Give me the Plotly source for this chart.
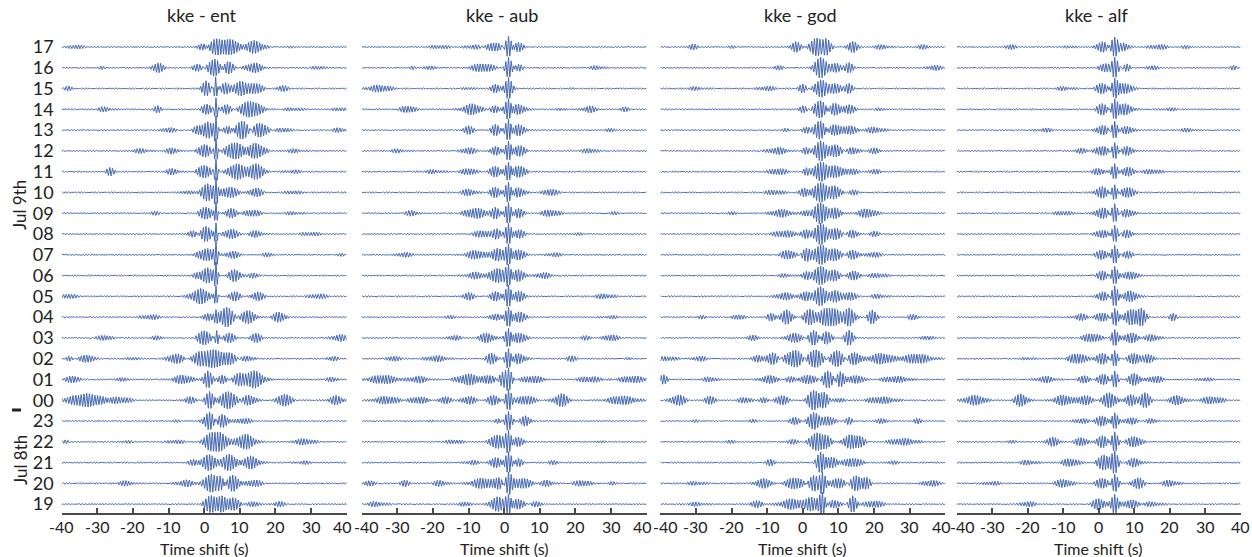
import numpy as np
import plotly.graph_objects as go

# ---------------- data ----------------
HOURS = ["17", "16", "15", "14", "13", "12", "11", "10", "09", "08", "07", "06",
         "05", "04", "03", "02", "01", "00", "23", "22", "21", "20", "19"]
PANEL_TITLES = ["kke - ent", "kke - aub", "kke - god", "kke - alf"]
TIME_TICKS = [-40, -30, -20, -10, 0, 10, 20, 30, 40]
X_TITLE = "Time shift (s)"

# wave packets for each hour trace:
# (centre time s, half-width s, relative amplitude)
ENT_PACKETS = [
    [(-36, 1.5, 2), (0, 1.5, 5), (3.5, 2.5, 9), (8, 1.5, 7), (14, 2, 6), (25, 2, 1.5)],
    [(-29, 1, 2), (-13, 1.2, 5), (-2, 1.5, 4), (3, 1.5, 9), (6.5, 1.5, 7), (14, 2, 5), (32, 1.5, 2)],
    [(-38, 1, 2), (0.5, 1, 7), (3.2, 0.4, 12), (6, 1.2, 5), (10, 1.5, 7), (14, 2, 6), (22, 1.5, 2.5)],
    [(-28, 1.5, 2), (-13, 1, 4), (0.8, 1.2, 6), (3.3, 0.4, 12), (6.5, 1.2, 5), (13, 2.5, 8), (25, 2, 1.5), (38, 1.5, 2)],
    [(-10, 2, 3), (-2, 1, 3), (1, 1.5, 8), (3.3, 0.4, 12), (7, 1.2, 6), (10.5, 1.8, 9), (15.5, 1.8, 8), (22, 1.5, 2), (38, 1.5, 2)],
    [(-18, 2, 2), (-9, 1.2, 3), (0, 1.5, 7), (3.3, 0.4, 12), (8.5, 2, 9), (14.5, 2, 8), (25, 2, 1.5)],
    [(-26.5, 1, 4), (-9, 1.5, 2.5), (0, 1.5, 7), (3.3, 0.4, 12), (9, 2, 8), (14.5, 2, 8), (25, 2, 1.5)],
    [(-5, 1.5, 2), (1, 1.5, 8), (3.3, 0.4, 12), (7, 2, 5), (14.5, 1.5, 5), (25, 2, 2)],
    [(-14, 1.5, 2), (0.5, 1.5, 7), (3.3, 0.4, 12), (7.5, 1.5, 5), (13.5, 2, 4), (25, 3, 2)],
    [(-3, 1.5, 3), (0.5, 1.5, 8), (3.3, 0.4, 12), (7.5, 1.5, 5), (14.5, 1.5, 3), (30, 2, 1.5)],
    [(-2, 1, 3), (1, 1.5, 7), (3.3, 0.4, 12), (8, 2, 4), (18, 2, 2.5), (38, 1.5, 2)],
    [(-2, 1, 3), (1, 1.5, 8), (3.3, 0.4, 12), (8.5, 1.5, 6), (14, 1.5, 3)],
    [(-38, 1.5, 2), (-1, 2, 7), (3.3, 0.4, 12), (8.5, 1.5, 5), (15, 1.5, 4), (32, 2, 2)],
    [(-15, 2, 2), (1, 1, 4), (3.3, 0.4, 5), (6.3, 1.8, 10), (12, 1.8, 6), (21, 1.5, 5)],
    [(-28, 1.5, 2.5), (-13, 1.5, 2.5), (0, 1.5, 8), (3.5, 0.5, 8), (7, 1.5, 5), (14.5, 1.5, 5), (38, 1.5, 3)],
    [(-38, 0.8, 2.5), (-33, 1.5, 4), (-20, 1.5, 2), (-8, 1.8, 5), (-1.5, 1.5, 7), (2.5, 2, 9), (7, 1.5, 6), (12, 1.5, 3), (36, 1.5, 3)],
    [(-37, 1.5, 4), (-23, 1, 2), (-6, 2, 4), (1, 1, 8), (5, 1, 5), (10, 1.5, 6), (14, 2, 8), (36, 1.5, 3)],
    [(-33, 4, 6), (-24, 3, 3.5), (-4, 1.5, 3.5), (1.5, 1, 8), (6.8, 1.8, 9), (12.5, 1.5, 5), (22.5, 1.5, 6), (37, 1.5, 4)],
    [(-8, 2, 1.5), (1.5, 1.2, 9), (5, 1.5, 7), (11, 2, 3)],
    [(-39, 1, 2), (-22, 2, 2), (-8, 2, 2), (1.5, 1.2, 8), (4.5, 1.5, 9), (11.5, 2, 7), (28, 3, 3.5)],
    [(-3, 1.5, 3), (1.5, 1.5, 8), (7, 1.5, 9), (13, 1.8, 6), (28, 2.5, 2)],
    [(-22, 2, 2.5), (-5, 2, 3), (2, 1.5, 9), (4.5, 1, 7), (8, 1.5, 8), (14, 2, 4)],
    [(-30, 2, 1.5), (2, 1.5, 8), (5, 1, 6), (8, 1.5, 6), (14, 1.5, 3), (21, 1.5, 2.5)],
]

AUB_PACKETS = [
    [(-18, 2, 1.5), (-8, 2, 2), (-3, 2, 5), (1.2, 0.8, 11), (4, 1.5, 5)],
    [(-26, 1, 2), (-21, 1, 2), (-6, 3, 4.5), (1.2, 0.8, 10), (4, 1, 4), (26, 1.5, 2)],
    [(-35, 2.5, 3), (-10, 2, 2), (-2.5, 1, 5), (1.2, 0.8, 11), (20, 2, 1.5)],
    [(-27, 2, 4), (-9, 2, 5), (-2.5, 1.3, 4), (1.2, 0.8, 11), (4, 1.5, 5), (16, 1.5, 2), (24, 1.5, 3), (34, 1.2, 2)],
    [(-10, 1.3, 4), (-2.5, 1.2, 6), (1.2, 0.8, 11), (4, 1.5, 5), (30, 2, 1.5)],
    [(-30, 2, 1.5), (-10, 1.5, 3), (-2.5, 1.2, 5), (1.2, 0.8, 11), (4, 1.5, 5), (24, 1.5, 2)],
    [(-20, 2, 1.5), (-10, 1.5, 3), (-2.5, 1.2, 6), (1.2, 0.8, 11), (4, 1.5, 6)],
    [(-10, 1.5, 3), (-2.5, 1.2, 5), (1.2, 0.8, 11), (4, 1.5, 5), (13, 1.5, 3)],
    [(-26, 2, 3), (-8, 2.5, 5), (-2.5, 1, 5), (1.2, 0.8, 11), (4, 1.5, 5), (13, 2, 3), (31, 2, 2)],
    [(-6, 2.5, 4), (-2, 1, 5), (1.2, 0.8, 11), (4, 1.5, 5), (20, 2, 1.5)],
    [(-28, 1.5, 2), (-8, 2, 4), (-2, 1.5, 6), (1.2, 0.8, 11), (4, 1.5, 6), (14, 2, 2.5)],
    [(-8, 2, 3), (-2, 1.5, 7), (1.2, 0.8, 11), (4, 1.5, 6), (11, 1.5, 3)],
    [(-10, 1.5, 4), (-2.5, 1.5, 5), (1.2, 0.8, 11), (4, 1.5, 5), (28, 2, 2)],
    [(-15, 2, 1.5), (-2.5, 1.5, 4), (1.2, 0.8, 11), (4, 1.5, 5), (30, 2, 1.5)],
    [(-14, 1.5, 3), (-5, 2, 5), (1.2, 0.8, 11), (4, 1.5, 5), (23, 1.5, 2), (30, 1.5, 3)],
    [(-31, 1.5, 3), (-19, 2.5, 3), (-3.5, 1.3, 6), (1.2, 0.8, 11), (4, 1.5, 5), (19, 1.5, 3), (35, 2, 1.5)],
    [(-34, 3, 4), (-24, 2, 3), (-10, 2.5, 5), (-4, 1.5, 4), (-0.5, 1, 8), (1.2, 0.8, 11), (8, 3, 4), (24, 3, 3), (36, 3, 3)],
    [(-33, 3, 4), (-24, 2, 3), (-16.5, 1.2, 4), (-10, 1.5, 4), (-3, 1.5, 5), (1.2, 0.8, 11), (6, 2, 4), (16, 1.5, 6), (33, 3, 4)],
    [(-20, 3, 1), (-1.5, 1, 3), (1.2, 0.8, 10), (6, 1, 5)],
    [(-14, 2, 2), (-2, 1.5, 7), (1.2, 0.8, 11), (4, 1.5, 5), (27, 1.5, 2)],
    [(-9, 1.5, 2), (-2.5, 1.5, 5), (1.2, 0.8, 10), (4, 1, 4), (14, 1.5, 2)],
    [(-38, 1.2, 3), (-28, 1.2, 3), (-18, 1.5, 3), (-6, 2.5, 5), (-1.5, 1, 6), (1.2, 0.8, 11), (5, 2, 5), (12, 1.5, 3), (22, 2, 3), (30, 1.2, 2)],
    [(-36, 2, 2), (-11, 1.5, 3), (-2, 1.5, 7), (1.2, 0.8, 11), (4, 1.5, 5), (9, 2, 3)],
]

GOD_PACKETS = [
    [(-31, 1.2, 3), (-20, 2, 1.5), (-2, 1, 5), (4, 1.5, 9), (6.5, 1, 8), (14, 1, 6), (22, 2, 2), (34, 1.5, 2)],
    [(-7, 1.5, 2.5), (5, 1.5, 10), (9, 1.5, 5), (13, 1, 6), (37, 1.5, 2.5)],
    [(-30, 2, 1.5), (-10, 2, 2), (0, 1, 4), (5, 1.5, 9), (9, 1.5, 6), (13, 1, 5)],
    [(0, 1, 3), (5, 1.5, 10), (8.5, 1.5, 6), (13, 1.5, 4), (22, 2, 2)],
    [(-5, 1.5, 2), (1, 1, 4), (5, 1.5, 10), (8.5, 1.5, 6), (13, 1.5, 4), (20, 2, 2.5)],
    [(-7, 2, 3), (1, 1, 4), (5, 1.5, 10), (9, 1.5, 6), (14, 1.5, 4), (20, 1.5, 2.5)],
    [(-7, 2, 3), (1, 1, 4), (5, 1.5, 10), (9, 1.5, 6), (13.5, 1.5, 3), (20, 1.5, 2.5)],
    [(-8, 2, 2), (0.5, 1, 4), (5, 1.5, 10), (9, 1.5, 6), (14, 1.5, 3)],
    [(-20, 2, 2), (-6, 2.5, 4), (1, 1, 3), (5, 1.5, 10), (9, 1.5, 5), (18, 2, 4)],
    [(-5, 2.5, 3), (1, 1, 4), (5, 1.5, 10), (9, 1.5, 6), (14, 1.2, 4), (20, 1.5, 3)],
    [(-4, 2, 5), (1, 1.2, 6), (5, 1.5, 10), (9, 1.5, 7), (14, 1.5, 4), (20, 1.5, 3)],
    [(-5, 2, 2), (1, 1, 4), (5, 1.5, 10), (9, 1.5, 6), (14, 1.5, 4), (21, 2, 2)],
    [(-5, 2.5, 4), (1, 1.2, 5), (5, 1.5, 10), (9, 1.5, 6), (13, 1.5, 4), (21, 2, 2)],
    [(-28, 1.5, 2), (-18, 1.5, 3), (-9, 1.2, 4), (-4.5, 1.3, 7), (2, 1.5, 8), (6, 1.5, 7), (9, 1.5, 8), (13, 1.2, 9), (19.5, 1, 8), (31, 1.5, 3)],
    [(-14, 1.5, 2), (-2, 2.5, 5), (3, 1.5, 8), (6.5, 1.5, 7), (13, 1, 7), (35, 1.5, 2.5)],
    [(-38, 2, 2), (-29, 2, 3), (-13, 1.2, 4), (-8.5, 1.5, 6), (-2, 2.5, 9), (3, 2, 10), (9.5, 1.5, 9), (14.5, 1.5, 6), (22, 2.5, 5), (32, 3, 4.5)],
    [(-39, 1, 5), (-26, 2, 3), (-9, 2.5, 4), (-4, 1.5, 3), (2, 2, 4), (7, 1.5, 9), (10.5, 1, 8), (15, 1.5, 4), (26, 3, 3)],
    [(-35, 1.5, 5), (-26, 1.5, 4), (-16, 2, 3), (-11, 1.5, 2.5), (-6, 1.5, 5), (3, 1.5, 10), (6, 1, 7), (10, 1.5, 3), (22, 3, 3)],
    [(-30, 2, 1.5), (-14, 1.5, 2), (-2, 1.5, 3), (3, 1.5, 9), (7, 1.5, 5), (13, 1, 4), (22, 1, 3), (32, 1, 2.5)],
    [(-20, 2, 1.5), (-3, 1.5, 2), (4, 1.5, 9), (7, 1, 5), (13, 1.5, 7), (16, 1.2, 6), (28, 3, 3)],
    [(-28, 2, 1.5), (-9, 1, 3), (5, 1, 10), (8, 1.5, 5), (14, 2, 4), (25, 2, 2)],
    [(-30, 2, 1.5), (-11, 2, 5), (-2, 2.5, 6), (3, 1.5, 8), (5.5, 0.8, 11), (10, 1.5, 5), (15, 1.5, 8), (18, 1, 5), (36, 2, 3)],
    [(-30, 2, 1.5), (-13, 1.5, 3), (-3, 2.5, 5), (2.5, 1.5, 7), (5.5, 0.8, 11), (9, 1.5, 4), (14, 1, 8), (20, 2, 3)],
]

ALF_PACKETS = [
    [(-25, 1.5, 3), (-8, 2, 2), (1, 1.5, 5), (4.5, 1, 10), (7, 1, 4), (17, 2, 2), (25, 2, 2)],
    [(2, 1.5, 5), (4.5, 0.8, 10), (8, 1, 4), (15, 1.5, 3), (38, 1, 2.5)],
    [(-10, 2, 1.5), (1, 1.5, 6), (4.5, 0.8, 10), (7.5, 1.5, 5)],
    [(1, 1.5, 6), (4.5, 0.8, 10), (7.5, 1.5, 5), (20, 2, 1.5)],
    [(-15, 2, 1.5), (1, 1.5, 5), (4.5, 0.8, 9), (8, 1.5, 4), (25, 2, 1.5)],
    [(-5, 1.5, 2), (1, 1.5, 5), (4.5, 0.8, 9), (8, 1.5, 4)],
    [(0, 1.5, 4), (4.5, 0.8, 9), (8, 1.5, 4), (15, 2, 2)],
    [(1, 1.5, 5), (4.5, 0.8, 9), (8, 1.5, 5)],
    [(-10, 2, 2), (1, 1.5, 5), (4.5, 0.8, 10), (8, 1.5, 4)],
    [(1, 1.5, 4), (4.5, 0.8, 9), (8, 1.5, 4)],
    [(1, 1.5, 5), (4.5, 0.8, 10), (8, 1.5, 4)],
    [(1, 1.5, 5), (4.5, 0.8, 9), (9, 1.5, 4)],
    [(1, 1.5, 5), (4.5, 0.8, 10), (9, 1.5, 5)],
    [(-5, 1.5, 3), (1, 1.5, 5), (4.5, 0.8, 9), (9, 1.5, 7), (12, 1, 8), (21, 1, 4)],
    [(-2, 2, 4), (4.5, 0.8, 9), (9, 1.5, 5), (15, 1.5, 3)],
    [(-20, 2, 2), (-6, 2, 5), (1, 1.5, 5), (4.5, 0.8, 9), (10, 1.5, 6), (14, 1.5, 4)],
    [(-15, 2, 3), (-4, 2, 4), (1, 1.5, 5), (4.5, 0.8, 9), (10, 1.5, 6), (16, 2, 4), (30, 2, 2)],
    [(-35, 2.5, 5), (-22, 1.5, 6), (-10, 2, 5), (-4, 2, 5), (3, 1.5, 8), (9, 1.5, 6), (13, 1.2, 8), (22, 2, 5), (32, 3, 4)],
    [(-5, 2, 3), (1, 1.5, 5), (4.5, 0.8, 9), (9, 1.5, 4), (15, 1.5, 3)],
    [(-25, 2, 2), (-13, 1.5, 4), (-5, 1.5, 5), (1, 1.5, 6), (4.5, 0.8, 10), (10, 1.5, 5)],
    [(-20, 2, 2), (-8, 2, 4), (1.5, 1.5, 7), (4.5, 0.8, 10), (10, 1.5, 4)],
    [(-30, 2, 2), (-10, 2, 4), (1, 1.5, 6), (4.5, 0.8, 9), (11, 1.5, 6), (20, 2, 3)],
    [(-20, 2, 3), (0, 1.5, 6), (4.5, 0.8, 10), (9, 1.5, 4), (15, 2, 2)],
]

ALL_PACKETS = [ENT_PACKETS, AUB_PACKETS, GOD_PACKETS, ALF_PACKETS]

# ---------------- rendering helpers ----------------
LINE_COLOR = "#4467b0"
FONT = "Lato"
TEXT_COLOR = "#222222"
AXIS_COLOR = "#4a4a4a"
CARRIER_HZ = 1.3
AMP_SCALE = 1.0 / 20.8      # relative amplitude -> row spacing units
BACKGROUND = 0.85

t = np.arange(-40.0, 40.0001, 0.05)


def trace_from_packets(packets, seed_phase):
    y = BACKGROUND * (0.6 * np.cos(2 * np.pi * CARRIER_HZ * t + seed_phase)
                      + 0.5 * np.cos(2 * np.pi * 1.07 * t + 2.3 * seed_phase))
    for c, w, a in packets:
        env = np.exp(-0.5 * ((t - c) / w) ** 2)
        y = y + a * env * np.cos(2 * np.pi * CARRIER_HZ * (t - c))
    return y * AMP_SCALE


W, H = 1252, 557
panel_px = [(61.7, 346.7), (361.7, 646.7), (660.3, 945.3), (957.0, 1240.5)]
top_px, bottom_px = 30.0, 513.0
row0_px, row_spacing = 47.0, 20.78
y_top = (row0_px - top_px) / row_spacing
y_bot = -(bottom_px - row0_px) / row_spacing

fig = go.Figure()
for p, packets in enumerate(ALL_PACKETS):
    xs, ys = [], []
    for i, pk in enumerate(packets):
        yy = trace_from_packets(pk, 0.7 * i + 1.9 * p) - i
        xs.extend(t.tolist() + [None])
        ys.extend(yy.tolist() + [None])
    ax = "" if p == 0 else str(p + 1)
    fig.add_trace(go.Scatter(x=xs, y=ys, mode="lines",
                             line=dict(color=LINE_COLOR, width=1),
                             xaxis="x" + ax, yaxis="y" + ax,
                             hoverinfo="skip", showlegend=False))

layout = dict(width=W, height=H, margin=dict(l=0, r=0, t=0, b=0, pad=0),
              paper_bgcolor="white", plot_bgcolor="white",
              font=dict(family=FONT, size=16, color=TEXT_COLOR))

annotations = []
for p in range(4):
    ax = "" if p == 0 else str(p + 1)
    x0, x1 = panel_px[p]
    layout["xaxis" + ax] = dict(
        domain=[x0 / W, x1 / W], range=[-40, 40], anchor="y" + ax,
        automargin=False, showticklabels=False,
        tickmode="array", tickvals=TIME_TICKS,
        ticks="inside", ticklen=5, tickwidth=1.5, tickcolor=AXIS_COLOR,
        showline=True, linecolor=AXIS_COLOR, linewidth=1.6,
        showgrid=False, zeroline=False,
    )
    ydict = dict(domain=[1 - bottom_px / H, 1 - top_px / H], range=[y_bot, y_top],
                 anchor="x" + ax, showgrid=False, zeroline=False, showline=False,
                 automargin=False, fixedrange=True)
    if p == 0:
        ydict.update(tickmode="array", tickvals=[-i for i in range(len(HOURS))],
                     ticktext=HOURS, ticks="", ticklabelstandoff=7,
                     tickfont=dict(family=FONT, size=18, color=TEXT_COLOR))
    else:
        ydict.update(showticklabels=False, ticks="")
    layout["yaxis" + ax] = ydict

    # x tick labels (placed on the axis scale; edge labels nudged apart as in the original)
    for v in TIME_TICKS:
        shift = 0
        if v == -40 and p > 0:
            shift = 5
        if v == 40 and p < 3:
            shift = -4
        annotations.append(dict(text=str(v), x=v, xref="x" + ax, y=1 - 526 / H, yref="paper",
                                showarrow=False, xanchor="center", yanchor="middle",
                                xshift=shift,
                                font=dict(family=FONT, size=16, color=TEXT_COLOR)))
    annotations.append(dict(text=X_TITLE, x=0, xref="x" + ax, y=1 - 548 / H, yref="paper",
                            showarrow=False, xanchor="center", yanchor="middle",
                            font=dict(family=FONT, size=16, color=TEXT_COLOR)))
    annotations.append(dict(text=PANEL_TITLES[p], x=0, xref="x" + ax, xshift=-2,
                            y=1 - 15 / H, yref="paper", showarrow=False,
                            xanchor="center", yanchor="middle",
                            font=dict(family=FONT, size=18, color=TEXT_COLOR)))

annotations.append(dict(text="Jul 9th", x=20 / W, y=1 - 205 / H, xref="paper", yref="paper",
                        showarrow=False, textangle=-90, xanchor="center", yanchor="middle",
                        font=dict(family=FONT, size=17, color=TEXT_COLOR)))
annotations.append(dict(text="Jul 8th", x=20 / W, y=1 - 460 / H, xref="paper", yref="paper",
                        showarrow=False, textangle=-90, xanchor="center", yanchor="middle",
                        font=dict(family=FONT, size=17, color=TEXT_COLOR)))
layout["annotations"] = annotations
layout["shapes"] = [dict(type="line", xref="paper", yref="paper",
                         x0=12 / W, x1=21 / W, y0=1 - 410 / H, y1=1 - 410 / H,
                         line=dict(color=TEXT_COLOR, width=3))]

fig.update_layout(**layout)
fig.write_html("out.html")
